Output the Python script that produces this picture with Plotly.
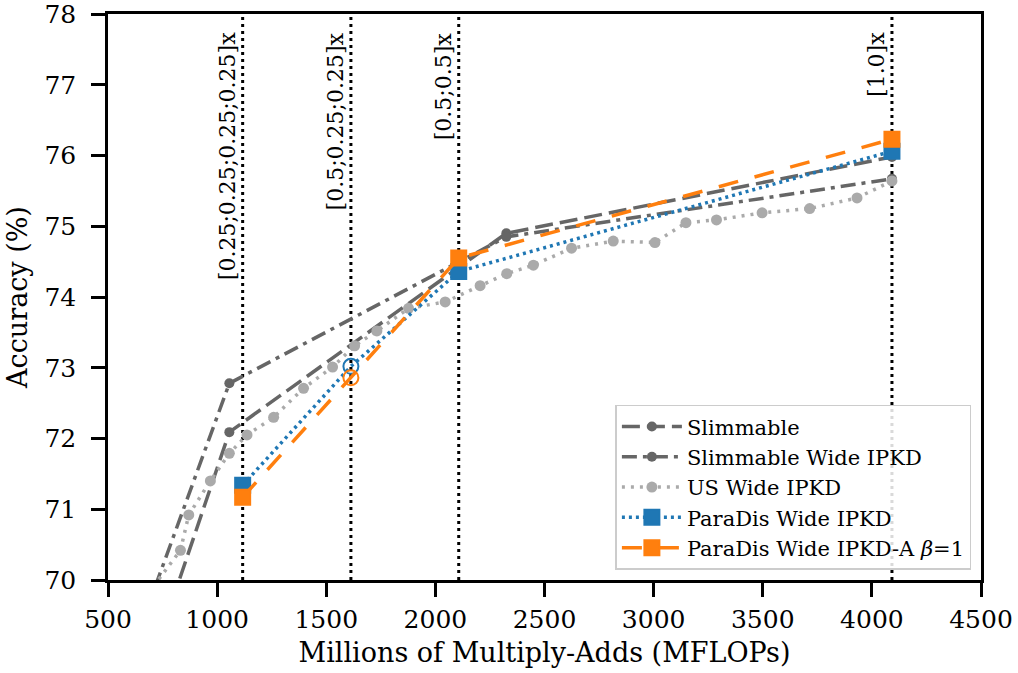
import plotly.graph_objects as go

# ---- data ----
slim_x = [278, 1056, 2325, 4092]
slim_y = [65.0, 72.09, 74.90, 75.98]

slimw_x = [278, 1056, 2325, 4092]
slimw_y = [66.2, 72.78, 74.85, 75.67]

us_x = [560, 832, 870, 969, 1056, 1137, 1259, 1396, 1529, 1630, 1732, 1877, 2045,
        2205, 2327, 2449, 2624, 2815, 3006, 3148, 3288, 3497, 3715, 3932, 4092]
us_y = [69.3, 70.42, 70.92, 71.40, 71.79, 72.05, 72.30, 72.71, 73.01, 73.31, 73.52, 73.84, 73.93,
        74.16, 74.33, 74.45, 74.69, 74.79, 74.77, 75.05, 75.09, 75.19, 75.25, 75.40, 75.64]

para_x = [1117, 1613, 2107, 4092]
para_y = [71.34, 73.02, 74.36, 76.06]

paraA_x = [1117, 1613, 2107, 4092]
paraA_y = [71.17, 72.86, 74.55, 76.23]

vline_x = [1117, 1613, 2107, 4092]
vline_labels = ["[0.25;0.25;0.25;0.25]x", "[0.5;0.25;0.25]x", "[0.5;0.5]x", "[1.0]x"]

x_ticks = [500, 1000, 1500, 2000, 2500, 3000, 3500, 4000, 4500]
y_ticks = [70, 71, 72, 73, 74, 75, 76, 77, 78]

FONT = "DejaVu Serif"
GRAY = "#666666"
LGRAY = "#aaaaaa"
BLUE = "#1f77b4"
ORANGE = "#ff7f0e"

fig = go.Figure()

fig.add_trace(go.Scatter(
    x=slim_x, y=slim_y, mode="lines+markers", name="Slimmable",
    line=dict(color=GRAY, width=3.5, dash="18px,7px"),
    marker=dict(symbol="circle", size=10, color=GRAY, opacity=1)))

fig.add_trace(go.Scatter(
    x=slimw_x, y=slimw_y, mode="lines+markers", name="Slimmable Wide IPKD",
    line=dict(color=GRAY, width=3.5, dash="15px,6px,4px,6px"),
    marker=dict(symbol="circle", size=10, color=GRAY, opacity=1)))

fig.add_trace(go.Scatter(
    x=us_x, y=us_y, mode="lines+markers", name="US Wide IPKD",
    line=dict(color=LGRAY, width=3.5, dash="3px,6px"),
    marker=dict(symbol="circle", size=11, color=LGRAY, opacity=1)))

sym = ["square", "circle-open", "square", "square"]
fig.add_trace(go.Scatter(
    x=para_x, y=para_y, mode="lines+markers", name="ParaDis Wide IPKD",
    line=dict(color=BLUE, width=3.5, dash="3px,4px"),
    marker=dict(symbol=sym, size=15, color=BLUE, opacity=1, line=dict(color=BLUE, width=2))))

fig.add_trace(go.Scatter(
    x=paraA_x, y=paraA_y, mode="lines+markers", name="ParaDis Wide IPKD-A <i>β</i>=1",
    line=dict(color=ORANGE, width=3.5, dash="20px,17px"),
    marker=dict(symbol=sym, size=15, color=ORANGE, opacity=1, line=dict(color=ORANGE, width=2))))

for xv, lab in zip(vline_x, vline_labels):
    fig.add_shape(type="line", xref="x", yref="paper", x0=xv, x1=xv, y0=0, y1=1,
                  line=dict(color="black", width=3, dash="3px,4px"), layer="below")
    fig.add_annotation(x=xv, y=1, xref="x", yref="paper", text=lab, showarrow=False,
                       textangle=-90, xanchor="right", yanchor="top", xshift=-1, yshift=-16,
                       font=dict(family=FONT, size=22, color="black"))

axis_common = dict(showline=True, linecolor="black", linewidth=2.5, mirror=True,
                   ticks="outside", ticklen=14, tickwidth=2.5, tickcolor="black",
                   showgrid=False, zeroline=False, automargin=False,
                   ticklabeloverflow="allow",
                   tickfont=dict(family=FONT, size=25, color="black"))

fig.update_xaxes(range=[500, 4500], tickvals=x_ticks, **axis_common, ticklabelstandoff=1,
                 title=dict(text="Millions of Multiply-Adds (MFLOPs)",
                            font=dict(family=FONT, size=27, color="black"), standoff=11))
fig.update_yaxes(range=[70, 78], tickvals=y_ticks, **axis_common, ticklabelstandoff=10,
                 title=dict(text="Accuracy (%)",
                            font=dict(family=FONT, size=27, color="black"), standoff=9))

fig.update_layout(
    width=1018, height=673,
    margin=dict(l=108, r=37, t=14, b=93),
    paper_bgcolor="white", plot_bgcolor="white",
    font=dict(family=FONT, color="black"),
    legend=dict(x=0.989, y=0.018, xanchor="right", yanchor="bottom",
                bgcolor="rgba(255,255,255,0.85)", bordercolor="#cccccc", borderwidth=1.5,
                font=dict(family=FONT, size=21, color="black"),
                tracegroupgap=0, itemwidth=60),
    showlegend=True,
)

fig.write_html("out.html", config={"displayModeBar": False},
               post_script="document.body.style.margin='0px';")
